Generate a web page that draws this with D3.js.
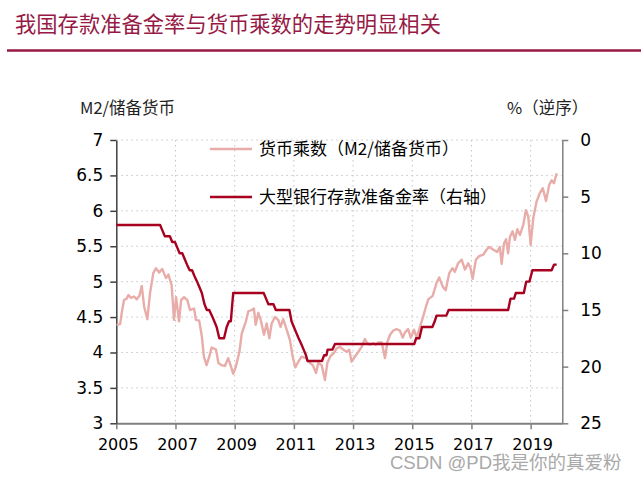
<!DOCTYPE html>
<html>
<head>
<meta charset="utf-8">
<script src="https://cdn.jsdelivr.net/npm/d3@7/dist/d3.min.js"></script>
<style>
  html, body { margin: 0; padding: 0; background: #fff; }
  svg { display: block; }
</style>
</head>
<body>
<svg id="chart" width="641" height="480"></svg>
<script>
// ---------------- DATA ----------------
const titleText = "我国存款准备金率与货币乘数的走势明显相关";
const leftAxisTitle = "M2/储备货币";
const rightAxisTitle = "%（逆序）";
const seriesNames = ["货币乘数（M2/储备货币）", "大型银行存款准备金率（右轴）"];
const watermark = "CSDN @PD我是你的真爱粉";

const xTicks = [2005, 2007, 2009, 2011, 2013, 2015, 2017, 2019];
const leftTicks = [3, 3.5, 4, 4.5, 5, 5.5, 6, 6.5, 7];
const rightTicks = [0, 5, 10, 15, 20, 25];

// Money multiplier (M2 / reserve money)
const mmDates = [
  2005.01, 2005.13, 2005.18, 2005.26, 2005.35, 2005.41, 2005.50, 2005.60, 2005.69, 2005.78,
  2005.86, 2005.94, 2006.05, 2006.14, 2006.25, 2006.34, 2006.45, 2006.55, 2006.68, 2006.76,
  2006.87, 2006.95, 2007.02, 2007.12, 2007.19, 2007.29, 2007.40, 2007.49, 2007.63, 2007.69,
  2007.80, 2007.89, 2007.96, 2008.05, 2008.14, 2008.22, 2008.37, 2008.45, 2008.56, 2008.67,
  2008.78, 2008.86, 2008.95, 2009.04, 2009.16, 2009.24, 2009.38, 2009.46, 2009.57, 2009.65,
  2009.71, 2009.80, 2009.88, 2009.99, 2010.08, 2010.17, 2010.25, 2010.36, 2010.47, 2010.55,
  2010.64, 2010.76, 2010.87, 2010.96, 2011.05, 2011.15, 2011.26, 2011.41, 2011.52, 2011.64,
  2011.75, 2011.82, 2011.94, 2012.05, 2012.13, 2012.24, 2012.35, 2012.45, 2012.56, 2012.67,
  2012.78, 2012.87, 2012.95, 2013.06, 2013.18, 2013.29, 2013.40, 2013.48, 2013.57, 2013.68,
  2013.77, 2013.85, 2013.97, 2014.08, 2014.16, 2014.25, 2014.36, 2014.47, 2014.58, 2014.68,
  2014.75, 2014.86, 2014.95, 2015.06, 2015.15, 2015.26, 2015.37, 2015.43, 2015.54, 2015.69,
  2015.82, 2015.91, 2016.03, 2016.13, 2016.25, 2016.36, 2016.44, 2016.55, 2016.67, 2016.78,
  2016.89, 2016.97, 2017.04, 2017.15, 2017.26, 2017.40, 2017.51, 2017.60, 2017.74, 2017.87,
  2017.96, 2018.02, 2018.10, 2018.17, 2018.24, 2018.30, 2018.39, 2018.47, 2018.55, 2018.64,
  2018.75, 2018.84, 2018.92, 2019.00, 2019.09, 2019.20, 2019.31, 2019.41, 2019.52, 2019.63,
  2019.71, 2019.79, 2019.88
];
const mmValues = [
  4.39, 4.40, 4.55, 4.74, 4.76, 4.81, 4.77, 4.79, 4.75, 4.80,
  4.94, 4.65, 4.47, 4.84, 5.12, 5.19, 5.13, 5.18, 5.05, 5.10,
  4.95, 4.46, 4.78, 4.44, 4.74, 4.78, 4.74, 4.60, 4.62, 4.46,
  4.45, 4.23, 3.94, 3.82, 3.94, 4.07, 4.04, 3.85, 3.82, 3.81,
  3.92, 3.82, 3.70, 3.80, 4.01, 4.27, 4.44, 4.58, 4.60, 4.62,
  4.39, 4.56, 4.46, 4.25, 4.41, 4.20, 4.41, 4.50, 4.46, 4.36,
  4.47, 4.32, 4.17, 3.94, 3.79, 3.87, 3.94, 3.92, 3.86, 3.82,
  3.71, 3.85, 3.82, 3.61, 3.85, 3.95, 3.99, 4.06, 4.08, 4.04,
  4.01, 4.04, 3.87, 3.94, 4.01, 4.08, 4.19, 4.13, 4.11, 4.13,
  4.11, 4.14, 4.14, 3.92, 4.15, 4.25, 4.31, 4.33, 4.31, 4.21,
  4.28, 4.33, 4.21, 4.32, 4.21, 4.36, 4.51, 4.60, 4.75, 4.80,
  4.98, 5.06, 4.93, 4.88, 5.12, 5.19, 5.14, 5.26, 5.31, 5.17,
  5.26, 5.19, 5.04, 5.31, 5.36, 5.38, 5.45, 5.49, 5.45, 5.42,
  5.49, 5.25, 5.54, 5.60, 5.40, 5.63, 5.71, 5.59, 5.74, 5.66,
  5.80, 6.01, 5.92, 5.52, 5.90, 6.13, 6.25, 6.32, 6.14, 6.37,
  6.43, 6.39, 6.53
];

// Large-bank reserve requirement ratio (%), right axis reversed
const rrrDates = [
  2005.00, 2006.48, 2006.56, 2006.64, 2006.81, 2006.89, 2006.98, 2007.06, 2007.14, 2007.23,
  2007.31, 2007.39, 2007.48, 2007.56, 2007.64, 2007.73, 2007.81, 2007.89, 2007.98, 2008.06,
  2008.14, 2008.23, 2008.31, 2008.39, 2008.48, 2008.64, 2008.73, 2008.81, 2008.87, 2008.95,
  2009.98, 2010.06, 2010.14, 2010.31, 2010.39, 2010.85, 2010.92, 2011.00, 2011.08, 2011.16,
  2011.25, 2011.33, 2011.41, 2011.46, 2011.95, 2012.02, 2012.10, 2012.14, 2012.30, 2012.39,
  2015.07, 2015.13, 2015.24, 2015.33, 2015.68, 2015.76, 2015.82, 2016.15, 2016.23, 2018.24,
  2018.32, 2018.44, 2018.50, 2018.77, 2018.85, 2018.96, 2019.06, 2019.71, 2019.79, 2019.88
];
const rrrValues = [
  7.5, 7.5, 8.0, 8.5, 8.5, 9.0, 9.0, 9.5, 10.0, 10.0,
  10.5, 11.0, 11.5, 11.5, 12.0, 12.5, 13.0, 13.5, 14.5, 15.0,
  15.0, 15.5, 16.0, 16.5, 17.5, 17.5, 16.5, 16.0, 16.0, 13.5,
  13.5, 14.0, 14.5, 14.5, 15.0, 15.0, 16.0, 16.5, 17.0, 17.5,
  18.0, 18.5, 19.0, 19.5, 19.5, 19.0, 19.0, 18.5, 18.5, 18.0,
  18.0, 17.5, 17.5, 16.5, 16.5, 16.0, 15.5, 15.5, 15.0, 15.0,
  14.0, 14.0, 13.5, 13.5, 12.5, 12.5, 11.5, 11.5, 11.0, 11.0
];

// ---------------- DRAW ----------------
const svg = d3.select("#chart");
const W = 641, H = 480;
const L = 116.3, R = 562.3, T = 140, B = 423.3;
const cjk = "'Noto Sans CJK SC', 'Noto Sans', sans-serif";
const num = "'DejaVu Sans', Verdana, sans-serif";
const titleColor = "#961a45";
const pink = "#e8aca9";
const red = "#a8001f";

const x = d3.scaleLinear().domain([2005, 2020.07]).range([L, R]);
const yL = d3.scaleLinear().domain([3, 7]).range([B, T]);
const yR = d3.scaleLinear().domain([0, 25]).range([T, B]);

// title
svg.append("text")
  .attr("x", 15).attr("y", 32)
  .attr("font-family", cjk).attr("font-size", 21.3)
  .attr("fill", titleColor)
  .text(titleText);
svg.append("line")
  .attr("x1", 7).attr("x2", W).attr("y1", 50.5).attr("y2", 50.5)
  .attr("stroke", titleColor).attr("stroke-width", 2.5);

// gridlines
const grid = svg.append("g");
grid.selectAll("line.h").data(leftTicks.filter(d => d > 3)).join("line")
  .attr("x1", L).attr("x2", R)
  .attr("y1", d => yL(d)).attr("y2", d => yL(d))
  .attr("stroke", "#c4c4c4").attr("stroke-width", 1)
  .attr("stroke-dasharray", "1.5,3.5");
grid.selectAll("line.v").data(xTicks.filter(d => d > 2005)).join("line")
  .attr("x1", d => x(d)).attr("x2", d => x(d))
  .attr("y1", T).attr("y2", B)
  .attr("stroke", "#c4c4c4").attr("stroke-width", 1)
  .attr("stroke-dasharray", "1.5,3.5");

// axes
const gx = svg.append("g").attr("transform", `translate(0,${B})`)
  .call(d3.axisBottom(x).tickValues(xTicks).tickFormat(d3.format("d"))
    .tickSize(6).tickSizeOuter(0).tickPadding(9));
gx.select(".domain").attr("stroke", "#808080").attr("stroke-width", 2);
gx.selectAll(".tick line").attr("stroke", "#808080").attr("stroke-width", 1.5);
gx.selectAll(".tick text").attr("font-family", num).attr("font-size", 16).attr("fill", "#000")
  .attr("dx", 1.5);

const gl = svg.append("g").attr("transform", `translate(${L},0)`)
  .call(d3.axisLeft(yL).tickValues(leftTicks).tickFormat(d => d3.format("")(d))
    .tickSize(6).tickSizeOuter(0).tickPadding(7));
gl.select(".domain").attr("stroke", "#404040").attr("stroke-width", 1.5);
gl.selectAll(".tick line").attr("stroke", "#404040").attr("stroke-width", 1.5);
gl.selectAll(".tick text").attr("font-family", num).attr("font-size", 17).attr("fill", "#000");

const gr = svg.append("g").attr("transform", `translate(${R},0)`)
  .call(d3.axisRight(yR).tickValues(rightTicks).tickSize(6).tickSizeOuter(0).tickPadding(12));
gr.select(".domain").attr("stroke", "#808080").attr("stroke-width", 1.5);
gr.selectAll(".tick line").attr("stroke", "#808080").attr("stroke-width", 1.5);
gr.selectAll(".tick text").attr("font-family", num).attr("font-size", 17).attr("fill", "#000");

// axis titles
svg.append("text").attr("x", 80).attr("y", 114)
  .attr("font-family", cjk).attr("font-size", 16.5).attr("fill", "#222")
  .text(leftAxisTitle);
svg.append("text").attr("x", 507).attr("y", 114)
  .attr("font-family", cjk).attr("font-size", 16.5).attr("fill", "#222")
  .text(rightAxisTitle);

// lines
const mm = mmDates.map((d, i) => [d, mmValues[i]]);
const rrr = rrrDates.map((d, i) => [d, rrrValues[i]]);

svg.append("path").datum(mm)
  .attr("fill", "none").attr("stroke", pink).attr("stroke-width", 2.4)
  .attr("stroke-linejoin", "round")
  .attr("d", d3.line().x(d => x(d[0])).y(d => yL(d[1])));

svg.append("path").datum(rrr)
  .attr("fill", "none").attr("stroke", red).attr("stroke-width", 2.4)
  .attr("stroke-linejoin", "round")
  .attr("d", d3.line().x(d => x(d[0])).y(d => yR(d[1])));

// legend
const legendY = [149, 197];
const legendColors = [pink, red];
const lg = svg.append("g");
seriesNames.forEach((name, i) => {
  lg.append("line")
    .attr("x1", 210).attr("x2", 252).attr("y1", legendY[i]).attr("y2", legendY[i])
    .attr("stroke", legendColors[i]).attr("stroke-width", 2.4);
  lg.append("text")
    .attr("x", 259).attr("y", legendY[i]).attr("dy", "0.36em")
    .attr("font-family", cjk).attr("font-size", 17).attr("fill", "#000")
    .text(name);
});

// watermark
svg.append("text").attr("x", 390).attr("y", 469)
  .attr("font-family", "'Liberation Sans', 'Noto Sans CJK SC', sans-serif").attr("font-size", 18.5)
  .attr("fill", "#a9a9a9")
  .attr("stroke", "#ffffff").attr("stroke-width", 0.6).attr("paint-order", "stroke")
  .text(watermark);
</script>
</body>
</html>
